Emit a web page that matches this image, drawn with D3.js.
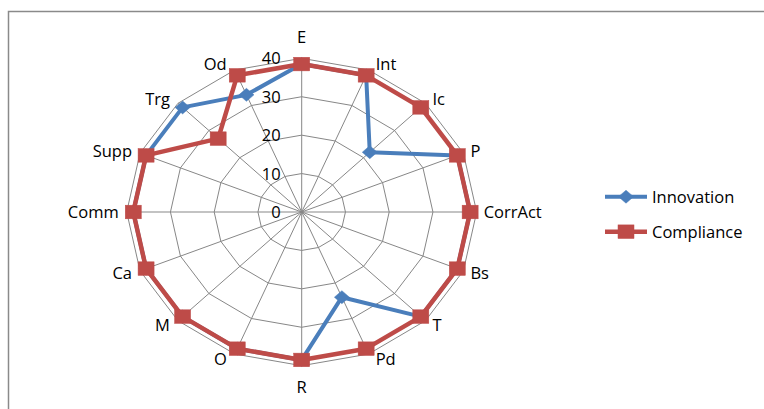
<!DOCTYPE html>
<html>
<head>
<meta charset="utf-8">
<script src="https://cdn.jsdelivr.net/npm/d3@7"></script>
<style>
  html, body { margin: 0; padding: 0; background: #fff; }
  svg { display: block; }
  text { font-family: "Open Sans", "DejaVu Sans", sans-serif; fill: #000; }
</style>
</head>
<body>
<svg id="chart" width="764" height="409"></svg>
<script>
// Categories around the radar, clockwise from the top
const categories = ["E", "Int", "Ic", "P", "CorrAct", "Bs", "T", "Pd", "R", "O", "M", "Ca", "Comm", "Supp", "Trg", "Od"];
const innovation = [38.5, 38.5, 22, 38.5, 38.5, 38.5, 38.5, 24, 38.5, 38.5, 38.5, 38.5, 38.5, 38.5, 38.5, 33];
const compliance = [38.5, 38.5, 38.5, 38.5, 38.5, 38.5, 38.5, 38.5, 38.5, 38.5, 38.5, 38.5, 38.5, 38.5, 27, 38.5];
const tickValues = [0, 10, 20, 30, 40];
const seriesNames = ["Innovation", "Compliance"];

const svg = d3.select("#chart");
const cx = 301.7, cy = 212;
const maxVal = 40;

// The plot is wider than tall, so radius is scaled separately on each axis
const rx = d3.scaleLinear().domain([0, maxVal]).range([0, 175]);
const ry = d3.scaleLinear().domain([0, maxVal]).range([0, 153.7]);
const angle = d3.scaleLinear().domain([0, categories.length]).range([0, 2 * Math.PI]);

function pt(i, v) {
  const a = angle(i);
  return [cx + rx(v) * Math.sin(a), cy - ry(v) * Math.cos(a)];
}

// Chart border
svg.append("rect")
  .attr("x", 8.5).attr("y", 11.5)
  .attr("width", 800).attr("height", 420)
  .attr("fill", "none").attr("stroke", "#8a8a8a").attr("stroke-width", 1.5);

const grid = svg.append("g");
// Rings
tickValues.filter(t => t > 0).forEach(t => {
  grid.append("polygon")
    .attr("points", categories.map((c, i) => pt(i, t).join(",")).join(" "))
    .attr("fill", "none").attr("stroke", "#878787").attr("stroke-width", 1);
});
// Spokes
categories.forEach((c, i) => {
  const [x, y] = pt(i, maxVal);
  grid.append("line")
    .attr("x1", cx).attr("y1", cy).attr("x2", x).attr("y2", y)
    .attr("stroke", "#878787").attr("stroke-width", 1);
});

// Value axis labels
svg.append("g").selectAll("text").data(tickValues).join("text")
  .attr("x", cx - 21)
  .attr("y", d => cy - ry(d))
  .attr("dy", "0.36em")
  .attr("text-anchor", "end")
  .attr("font-size", 16.5)
  .text(d => d);

// Category labels outside the outer ring
svg.append("g").selectAll("text").data(categories).join("text")
  .each(function (c, i) {
    const a = angle(i);
    const s = Math.sin(a), co = Math.cos(a);
    const [x, y] = pt(i, maxVal);
    const t = d3.select(this);
    if (Math.abs(s) < 0.1) {
      t.attr("x", x).attr("y", y - co * 21).attr("text-anchor", "middle");
    } else {
      t.attr("x", x + (s > 0 ? 7 : -8)).attr("y", y - co * 6)
        .attr("text-anchor", s > 0 ? "start" : "end");
    }
  })
  .attr("dy", "0.36em")
  .attr("font-size", 16.5)
  .text(d => d);

const line = d3.line().curve(d3.curveLinearClosed);
const colors = { Innovation: "#4a7ebb", Compliance: "#be4b48" };

function diamond(g, x, y, color) {
  g.append("path")
    .attr("d", `M${x},${y - 6.5}L${x + 7.5},${y}L${x},${y + 6.5}L${x - 7.5},${y}Z`)
    .attr("fill", color).attr("stroke", color).attr("stroke-width", 0.5);
}
function square(g, x, y, color) {
  g.append("rect")
    .attr("x", x - 8).attr("y", y - 6.8).attr("width", 16).attr("height", 13.6)
    .attr("fill", color).attr("stroke", color).attr("stroke-width", 0.5);
}

// Innovation series
const gInn = svg.append("g");
gInn.append("path")
  .attr("d", line(innovation.map((v, i) => pt(i, v))))
  .attr("fill", "none").attr("stroke", colors.Innovation).attr("stroke-width", 4)
  .attr("stroke-linejoin", "round");
innovation.forEach((v, i) => { const [x, y] = pt(i, v); diamond(gInn, x, y, colors.Innovation); });

// Compliance series
const gCom = svg.append("g");
gCom.append("path")
  .attr("d", line(compliance.map((v, i) => pt(i, v))))
  .attr("fill", "none").attr("stroke", colors.Compliance).attr("stroke-width", 4.5)
  .attr("stroke-linejoin", "round");
compliance.forEach((v, i) => { const [x, y] = pt(i, v); square(gCom, x, y, colors.Compliance); });

// Legend
const legend = svg.append("g");
seriesNames.forEach((name, k) => {
  const y = 196.7 + k * 35;
  legend.append("line").attr("x1", 605).attr("x2", 647).attr("y1", y).attr("y2", y)
    .attr("stroke", colors[name]).attr("stroke-width", k === 0 ? 4 : 4.5);
  if (k === 0) diamond(legend, 626, y, colors[name]); else square(legend, 626, y, colors[name]);
  legend.append("text").attr("x", 652).attr("y", y).attr("dy", "0.36em")
    .attr("font-size", 16.5).text(name);
});
</script>
</body>
</html>
